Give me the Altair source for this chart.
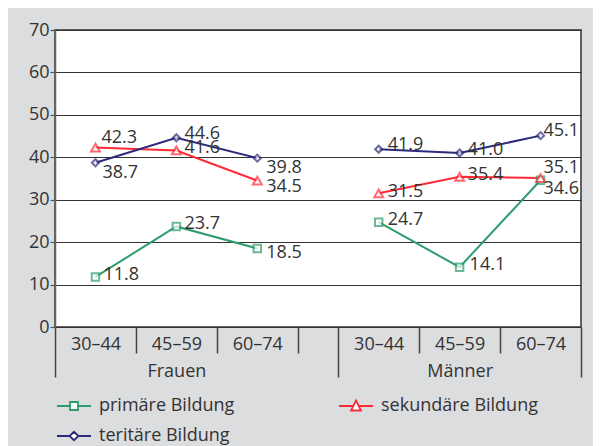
import altair as alt
import pandas as pd

ages = ["30–44", "45–59", "60–74"]
groups = ["Frauen", "Männer"]
series = ["primäre Bildung", "sekundäre Bildung", "teritäre Bildung"]

frauen_primaer = [11.8, 23.7, 18.5]
frauen_sekundaer = [42.3, 41.6, 34.5]
frauen_tertiaer = [38.7, 44.6, 39.8]
maenner_primaer = [24.7, 14.1, 34.6]
maenner_sekundaer = [31.5, 35.4, 35.1]
maenner_tertiaer = [41.9, 41.0, 45.1]

values = {
    "Frauen": [frauen_primaer, frauen_sekundaer, frauen_tertiaer],
    "Männer": [maenner_primaer, maenner_sekundaer, maenner_tertiaer],
}

colors = ["#2e9c6c", "#ff2a35", "#2d2a7a"]

# label nudges (dx, dy) in px, per group / series / age
label_nudge = {
    "Frauen": [[(8, -2), (8, -2), (9, 4)],
               [(6, -10), (8, -2), (9, 6)],
               [(7, 10), (8, -4), (9, 10)]],
    "Männer": [[(9, -2), (10, -2), (3, 9)],
               [(9, -1), (8, -2), (3, -10)],
               [(9, -4), (8, -3), (3, -5)]],
}

GAP = 0.5  # half-slot gap between the two groups
rows = []
nudges = []
for gi, g in enumerate(groups):
    for si, s in enumerate(series):
        for ai, a in enumerate(ages):
            v = values[g][si][ai]
            rows.append(dict(group=g, series=s, age=a,
                             pos=gi * (len(ages) + GAP) + ai + 0.5,
                             value=v, label=f"{v:.1f}", k=len(rows)))
            nudges.append(label_nudge[g][si][ai])
df = pd.DataFrame(rows)

n_slots = len(groups) * len(ages) + GAP
centers = [gi * (len(ages) + GAP) + ai + 0.5 for gi in range(len(groups)) for ai in range(len(ages))]
bounds = []
for gi in range(len(groups)):
    for ai in range(len(ages) + 1):
        bounds.append(gi * (len(ages) + GAP) + ai)
long_bounds = [0, len(ages) + GAP, n_slots]

# label expression for the x axis (age + group name under the middle slot)
expr = "''"
for gi, g in enumerate(groups):
    for ai, a in enumerate(ages):
        c = gi * (len(ages) + GAP) + ai + 0.5
        txt = f"['{a}','{g}']" if ai == 1 else f"'{a}'"
        expr = f"datum.value == {c} ? {txt} : ({expr})"

long_test = " || ".join(f"datum.value == {b}" for b in long_bounds)

FONT = "Open Sans"
TXT = "#333333"

xs = alt.Scale(domain=[0, n_slots], nice=False, zero=False)
ys = alt.Scale(domain=[0, 70], nice=False)

y_axis = alt.Axis(values=list(range(0, 71, 10)), grid=True, gridColor="#333333",
                  gridWidth=1.2, domainColor="#666666", domainWidth=1.5,
                  tickColor="#555555", tickSize=5, tickWidth=1.2, labelPadding=1,
                  labelFontSize=18, labelFont=FONT, labelColor=TXT, title=None)
Y = alt.Y("value:Q", scale=ys, axis=y_axis)

label_axis = alt.Axis(values=centers, labelExpr=expr, ticks=False, domain=False,
                      grid=False, orient="bottom", labelPadding=8, labelFontSize=18,
                      labelFont=FONT, labelColor=TXT, labelLineHeight=27,
                      labelOverlap=False, labelFlush=False, labelBound=False, title=None)
divider_axis = alt.Axis(values=bounds, labels=False, domain=False, grid=False,
                        orient="bottom", tickColor="#444444", tickWidth=1.5,
                        tickSize={"condition": {"test": long_test, "value": 50}, "value": 26},
                        title=None)

stroke_scale = alt.Scale(domain=series, range=colors)

legend_paths = [
    "M-1.7,0H-0.4M0.4,0H1.7M-0.4,-0.4H0.4V0.4H-0.4Z",
    "M-1.7,0H-0.22M0.22,0H1.7M0,-0.55L0.5,0.45L-0.5,0.45Z",
    "M-1.7,0H-0.45M0.45,0H1.7M-0.45,0L0,-0.42L0.45,0L0,0.42Z",
]
legend = alt.Legend(orient="none", legendX=8, legendY=365, columns=2, direction="horizontal",
                    title=None, symbolSize=400, symbolStrokeWidth=1.8, symbolOpacity=1,
                    symbolFillColor="white", labelFontSize=18, labelFont=FONT,
                    labelColor=TXT, labelOffset=14, columnPadding=100, rowPadding=10,
                    padding=0, labelLimit=0)
STROKE = alt.Stroke("series:N", scale=stroke_scale, legend=legend)

base = alt.Chart(df)

lines = base.mark_line(strokeWidth=2).encode(
    x=alt.X("pos:Q", scale=xs, axis=divider_axis),
    y=Y,
    stroke=STROKE,
    detail="group:N",
)

point_shapes = ["square", "triangle-up", "diamond"]
point_sizes = [56, 80, 50]
point_layers = []
for si, s in enumerate(series):
    point_layers.append(
        base.transform_filter(alt.datum.series == s)
        .mark_point(filled=True, fill="white", strokeWidth=2,
                    shape=point_shapes[si], size=point_sizes[si])
        .encode(
            x=alt.X("pos:Q", scale=xs, axis=label_axis if si == 0 else None),
            y=Y,
            stroke=STROKE,
        )
    )

legend_layer = base.mark_point(filled=True, fill="white", opacity=0, strokeWidth=1.8).encode(
    x=alt.X("pos:Q", scale=xs, axis=None),
    y=Y,
    stroke=STROKE,
    shape=alt.Shape("series:N", scale=alt.Scale(domain=series, range=legend_paths), legend=legend),
)

text_layers = []
for k, (dx, dy) in enumerate(nudges):
    text_layers.append(
        base.transform_filter(alt.datum.k == k)
        .mark_text(align="left", baseline="middle", dx=dx, dy=dy, fontSize=18,
                   font=FONT, color=TXT)
        .encode(x=alt.X("pos:Q", scale=xs, axis=None), y=Y, text="label:N")
    )

chart = alt.layer(lines, *point_layers, *text_layers, legend_layer).resolve_axis(
    x="independent"
).properties(
    width=526, height=297,
    autosize=alt.AutoSizeParams(type="none"),
    padding={"left": 47, "top": 22, "right": 12, "bottom": 119},
    background="#dcdddf",
).configure_view(fill="white", stroke="#333333", strokeWidth=1.5)

chart.save("out.html", embed_options={"renderer": "svg", "actions": False})
